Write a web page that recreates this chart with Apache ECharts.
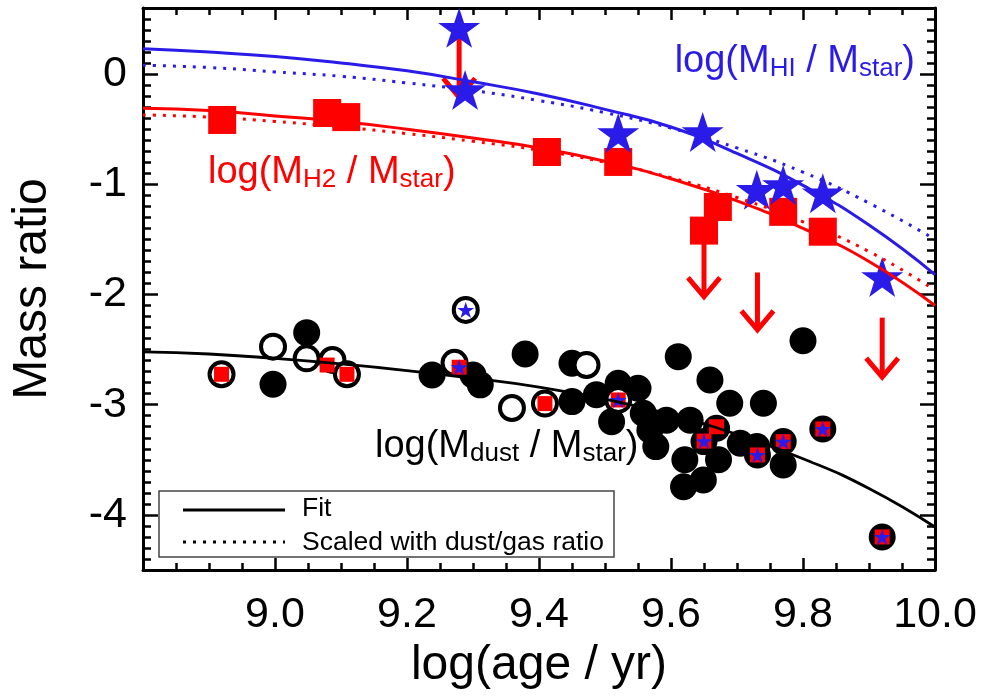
<!DOCTYPE html>
<html>
<head>
<meta charset="utf-8">
<script src="https://cdn.jsdelivr.net/npm/echarts@6/dist/echarts.min.js"></script>
<style>
  html, body { margin: 0; padding: 0; background: #fff; }
  #chart { width: 986px; height: 696px; }
</style>
</head>
<body>
<div id="chart"></div>
<script>
// ---- data ----
var fitAge   = [8.8, 8.9, 9.0, 9.1, 9.2, 9.3, 9.4, 9.5, 9.6, 9.7, 9.8, 9.9, 10.0];
var hiFit    = [0.23, 0.20, 0.16, 0.10, 0.03, -0.07, -0.18, -0.32, -0.48, -0.72, -1.01, -1.37, -1.82];
var hiScaled = [0.08, 0.06, 0.02, -0.02, -0.08, -0.15, -0.24, -0.35, -0.49, -0.67, -0.89, -1.17, -1.50];
var h2Fit    = [-0.31, -0.33, -0.38, -0.43, -0.50, -0.58, -0.67, -0.79, -0.95, -1.15, -1.40, -1.70, -2.10];
var h2Scaled = [-0.37, -0.39, -0.43, -0.48, -0.54, -0.61, -0.69, -0.80, -0.94, -1.12, -1.34, -1.61, -1.96];
var dustFit  = [-2.52, -2.54, -2.58, -2.63, -2.69, -2.76, -2.84, -2.95, -3.09, -3.27, -3.49, -3.76, -4.11];

// log(M_HI / M_star)
var hiPoints = [[9.279, 0.42], [9.288, -0.144], [9.52, -0.534], [9.648, -0.525],
                [9.73, -1.05], [9.77, -1.006], [9.83, -1.08], [9.92, -1.84]];
// log(M_H2 / M_star)
var h2Points = [[8.92, -0.416], [9.079, -0.353], [9.108, -0.39], [9.412, -0.707], [9.52, -0.797],
                [9.65, -1.42], [9.671, -1.206], [9.77, -1.25], [9.83, -1.43]];
// upper limits: age, from, arrow tip
var h2Limits = [[9.279, 0.42, -0.21], [9.65, -1.42, -2.02], [9.731, -1.80, -2.32], [9.92, -2.21, -2.75]];

// log(M_dust / M_star)
var dustFilled = [[8.997, -2.815], [9.048, -2.346], [9.238, -2.73], [9.30, -2.73], [9.311, -2.82],
                  [9.379, -2.54], [9.45, -2.624], [9.45, -2.972], [9.487, -2.91], [9.52, -2.806],
                  [9.55, -2.85], [9.51, -3.154], [9.558, -3.078], [9.593, -3.14], [9.568, -3.23],
                  [9.577, -3.38], [9.611, -2.564], [9.629, -3.14], [9.621, -3.50], [9.619, -3.744],
                  [9.649, -3.683], [9.659, -2.776], [9.672, -3.50], [9.669, -3.214], [9.65, -3.335],
                  [9.689, -2.987], [9.74, -2.987], [9.705, -3.35], [9.73, -3.38], [9.731, -3.456],
                  [9.77, -3.335], [9.77, -3.547], [9.80, -2.42], [9.83, -3.22], [9.92, -4.20]];
var dustOpen = [[8.919, -2.724], [8.997, -2.473], [9.048, -2.579], [9.087, -2.594], [9.109, -2.724],
                [9.272, -2.62], [9.289, -2.14], [9.359, -3.03], [9.409, -2.99], [9.472, -2.64],
                [9.52, -2.957]];
var dustWithH2 = [[8.919, -2.724], [9.079, -2.64], [9.109, -2.724], [9.279, -2.66], [9.409, -2.99],
                  [9.52, -2.957], [9.65, -3.33], [9.669, -3.20], [9.731, -3.456], [9.77, -3.335],
                  [9.83, -3.22], [9.92, -4.20]];
var dustWithHI = [[9.279, -2.66], [9.289, -2.14], [9.52, -2.957], [9.65, -3.33], [9.731, -3.456],
                  [9.77, -3.335], [9.83, -3.22], [9.92, -4.20]];

// ticks
var yLabels = [-4, -3, -2, -1, 0];
var yMinor = [];
for (var i = 0; i <= 51; i++) yMinor.push(Math.round((-4.5 + i * 0.1) * 10) / 10);

var FONT = 'Liberation Sans, Arial, Helvetica, sans-serif';
var BLUE = '#2a1be8';
var RED = '#ff0000';
var STAR = 'path://M100,0 L122.45,69.1 L195.1,69.1 L136.33,111.8 L158.8,180.9 L100,138.2 L41.2,180.9 L63.67,111.8 L4.9,69.1 L77.55,69.1 Z';

function zip(xs, ys) {
  return xs.map(function (x, i) { return [x, ys[i]]; });
}

var chart = echarts.init(document.getElementById('chart'));

var tickStyle = { color: '#000', width: 2.5 };
var frameLine = { show: true, onZero: false, lineStyle: { color: '#000', width: 3 } };

function xAxisOf(pos, withLabels) {
  return {
    type: 'value', position: pos, min: 8.8, max: 10.0, interval: 0.2,
    axisLine: frameLine,
    axisTick: { show: true, inside: true, length: 12, lineStyle: tickStyle },
    minorTick: { show: true, splitNumber: 4, length: 7, lineStyle: tickStyle },
    splitLine: { show: false },
    axisLabel: {
      show: withLabels, showMinLabel: false, margin: 24,
      fontSize: 43, fontFamily: FONT, color: '#000',
      formatter: function (v) { return v.toFixed(1); }
    },
    name: withLabels ? 'log(age / yr)' : '',
    nameLocation: 'middle', nameGap: 68,
    nameTextStyle: { fontSize: 48, fontFamily: FONT, color: '#000' }
  };
}

function yAxisOf(pos, major, withLabels) {
  return {
    type: 'value', position: pos, min: -4.5, max: 0.6,
    axisLine: major ? frameLine : { show: false },
    axisTick: { show: true, inside: true, length: major ? 15 : 8, lineStyle: tickStyle,
                customValues: major ? yLabels : yMinor },
    splitLine: { show: false },
    axisLabel: {
      show: withLabels, customValues: yLabels, margin: 16,
      fontSize: 43, fontFamily: FONT, color: '#000',
      formatter: function (v) { return String(Math.round(v)); }
    },
    name: withLabels ? 'Mass ratio' : '',
    nameLocation: 'middle', nameGap: 86,
    nameTextStyle: { fontSize: 48, fontFamily: FONT, color: '#000' }
  };
}

function curve(data, color, dotted, width) {
  return {
    type: 'line', data: data, showSymbol: false, smooth: true, silent: true,
    lineStyle: { color: color, width: width || 3, type: dotted ? [3, 7] : 'solid' }
  };
}

function rich(sub) {
  return '{m|log(M}{s|' + sub + '}{m| / M}{s|star}{m|)}';
}
function richStyle(color) {
  return {
    m: { fontSize: 38, fontFamily: FONT, fill: color, lineHeight: 40 },
    s: { fontSize: 26, fontFamily: FONT, fill: color, lineHeight: 15, verticalAlign: 'bottom' }
  };
}

var option = {
  animation: false,
  backgroundColor: '#fff',
  grid: { left: 143, right: 51, top: 8, bottom: 126, containLabel: false },
  xAxis: [xAxisOf('bottom', true), xAxisOf('top', false)],
  yAxis: [yAxisOf('left', true, true), yAxisOf('left', false, false),
          yAxisOf('right', true, false), yAxisOf('right', false, false)],
  series: [
    curve(zip(fitAge, hiFit), BLUE, false),
    curve(zip(fitAge, hiScaled), BLUE, true),
    curve(zip(fitAge, h2Fit), RED, false),
    curve(zip(fitAge, h2Scaled), RED, true),
    {
      type: 'custom', data: h2Limits, silent: true,
      encode: { x: 0, y: [1, 2] },
      renderItem: function (params, api) {
        var top = api.coord([api.value(0), api.value(1)]);
        var tip = api.coord([api.value(0), api.value(2)]);
        return {
          type: 'group',
          children: [
            { type: 'line', shape: { x1: top[0], y1: top[1], x2: tip[0], y2: tip[1] - 2 },
              style: { stroke: RED, lineWidth: 5 } },
            { type: 'polyline',
              shape: { points: [[tip[0] - 16, tip[1] - 19], [tip[0], tip[1]], [tip[0] + 16, tip[1] - 19]] },
              style: { stroke: RED, lineWidth: 5, fill: null, lineJoin: 'miter' } }
          ]
        };
      }
    },
    { type: 'scatter', data: h2Points, symbol: 'rect', symbolSize: 28, silent: true,
      itemStyle: { color: RED, opacity: 1 } },
    { type: 'scatter', data: hiPoints, symbol: STAR, symbolSize: [42, 40], silent: true,
      itemStyle: { color: BLUE, opacity: 1 } },
    { type: 'scatter', data: dustFilled, symbol: 'circle', symbolSize: 27, silent: true,
      itemStyle: { color: '#000', opacity: 1 } },
    { type: 'scatter', data: dustOpen, symbol: 'circle', symbolSize: 24, silent: true,
      itemStyle: { color: '#fff', borderColor: '#000', borderWidth: 4, opacity: 1 } },
    { type: 'scatter', data: dustWithH2, symbol: 'rect', symbolSize: 15, silent: true,
      itemStyle: { color: RED, opacity: 1 } },
    { type: 'scatter', data: dustWithHI, symbol: STAR, symbolSize: [17, 16], silent: true,
      itemStyle: { color: BLUE, opacity: 1 } },
    curve(zip(fitAge, dustFit), '#000', false, 2.8)
  ],
  graphic: [
    { type: 'text', x: 208, y: 173, silent: true,
      style: { text: rich('H2'), rich: richStyle(RED), align: 'left', verticalAlign: 'middle' } },
    { type: 'text', x: 915, y: 62, silent: true,
      style: { text: rich('HI'), rich: richStyle(BLUE), align: 'right', verticalAlign: 'middle' } },
    { type: 'text', x: 375, y: 447, silent: true,
      style: { text: rich('dust'), rich: richStyle('#000'), align: 'left', verticalAlign: 'middle' } },
    // legend box
    { type: 'rect', silent: true, z: 10,
      shape: { x: 159, y: 491, width: 455, height: 66 },
      style: { fill: '#fff', stroke: '#444', lineWidth: 1.5 } },
    { type: 'line', silent: true, z: 11,
      shape: { x1: 183, y1: 510, x2: 285, y2: 510 },
      style: { stroke: '#000', lineWidth: 3 } },
    { type: 'line', silent: true, z: 11,
      shape: { x1: 183, y1: 542, x2: 285, y2: 542 },
      style: { stroke: '#000', lineWidth: 3, lineDash: [3, 7] } },
    { type: 'text', x: 302, y: 509, silent: true, z: 11,
      style: { text: 'Fit', font: '26.5px ' + FONT, fill: '#000', align: 'left', verticalAlign: 'middle' } },
    { type: 'text', x: 302, y: 543, silent: true, z: 11,
      style: { text: 'Scaled with dust/gas ratio', font: '26.5px ' + FONT, fill: '#000',
               align: 'left', verticalAlign: 'middle' } }
  ]
};

chart.setOption(option);
</script>
</body>
</html>
